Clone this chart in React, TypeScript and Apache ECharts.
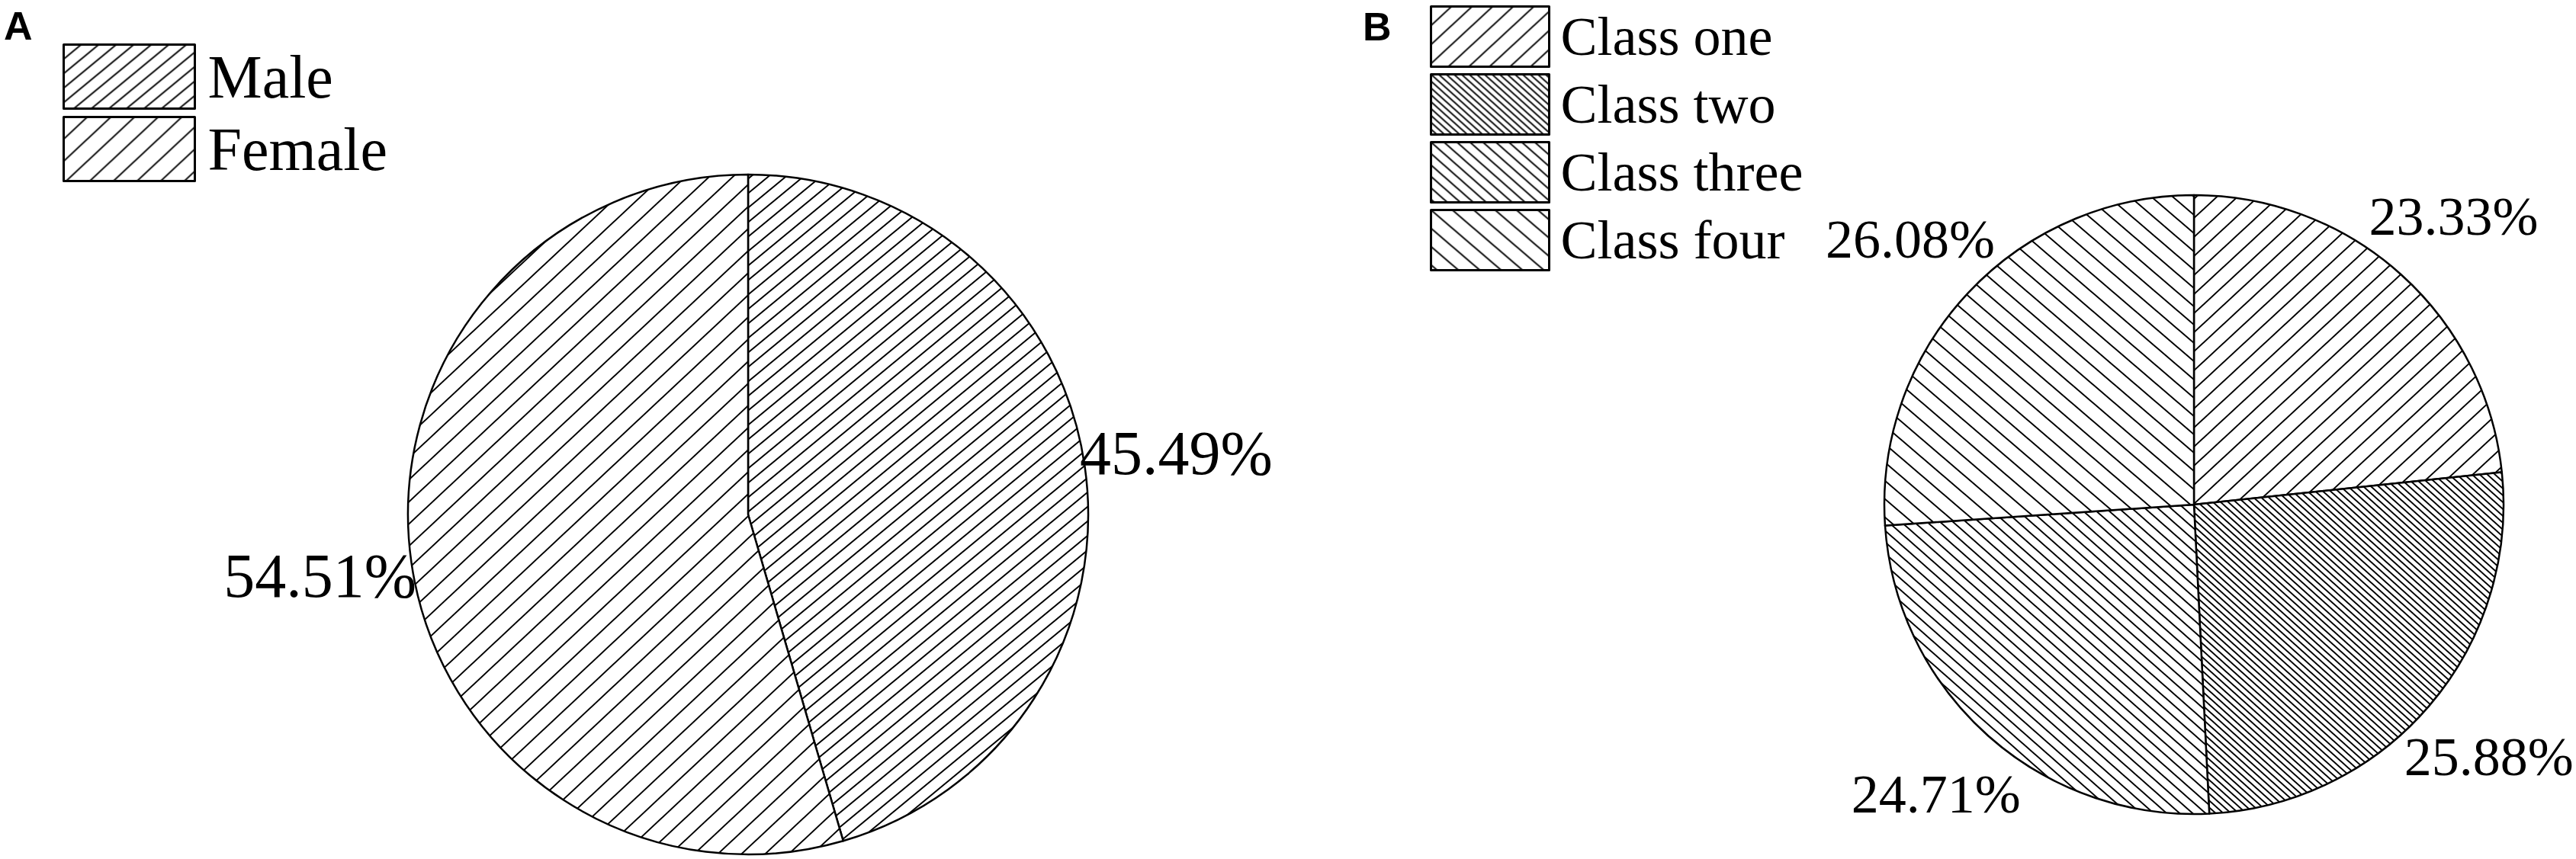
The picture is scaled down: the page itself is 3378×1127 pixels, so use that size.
import React, { useEffect, useRef } from 'react';
import * as echarts from 'echarts';

const panelLabels = ['A', 'B'];
const genderNames = ['Male', 'Female'];
const genderValues = [45.49, 54.51];
const classNames = ['Class one', 'Class two', 'Class three', 'Class four'];
const classValues = [23.33, 25.88, 24.71, 26.08];

// hatch tiles: horizontal period, vertical period, direction
const genderHatch = [
  { h: 23, v: 19, dir: '/' },
  { h: 31, v: 29, dir: '/' },
];
const classHatch = [
  { h: 27, v: 25, dir: '/' },
  { h: 10, v: 9, dir: '\\' },
  { h: 17, v: 15, dir: '\\' },
  { h: 28, v: 24, dir: '\\' },
];

function makeHatch(h: number, v: number, dir: string, lw: number) {
  const c = document.createElement('canvas');
  c.width = h;
  c.height = v;
  const ctx = c.getContext('2d')!;
  ctx.fillStyle = '#ffffff';
  ctx.fillRect(0, 0, h, v);
  ctx.strokeStyle = '#000000';
  ctx.lineWidth = lw;
  ctx.beginPath();
  for (let k = -1; k <= 2; k++) {
    if (dir === '/') {
      ctx.moveTo(k * h + h, -v);
      ctx.lineTo(k * h - 2 * h, 2 * v);
    } else {
      ctx.moveTo(k * h - h, -v);
      ctx.lineTo(k * h + 2 * h, 2 * v);
    }
  }
  ctx.stroke();
  return { image: c, repeat: 'repeat', imageWidth: h, imageHeight: v };
}

const SERIF = 'Liberation Serif, Times New Roman, serif';
const SANS = 'Liberation Sans, Arial, sans-serif';

export default function App() {
  const ref = useRef<HTMLDivElement>(null);
  useEffect(() => {
    document.body.style.margin = '0';
    document.body.style.overflow = 'hidden';
    if (!ref.current) return;
    const chart = echarts.init(ref.current, undefined, { renderer: 'svg' });

    const gPat = genderHatch.map((p) => makeHatch(p.h, p.v, p.dir, 2));
    const cPat = classHatch.map((p) => makeHatch(p.h, p.v, p.dir, 2));

    const pieA = { center: [981, 675], r: 446, labelGap: 118, font: 82 };
    const pieB = { center: [2877, 662], r: 406, labelGap: 100, font: 72 };

    const fmt = (p: any) => Number(p.value).toFixed(2) + '%';

    const mainPie = (cfg: any, names: string[], values: number[], pats: any[]) => ({
      type: 'pie',
      center: cfg.center,
      radius: cfg.r,
      startAngle: 90,
      clockwise: true,
      avoidLabelOverlap: false,
      silent: true,
      label: { show: false },
      labelLine: { show: false },
      emphasis: { disabled: true },
      itemStyle: { borderColor: '#000', borderWidth: 2.5 },
      data: names.map((n, i) => ({ name: n, value: values[i], itemStyle: { color: pats[i] } })),
    });

    const labelPie = (cfg: any, names: string[], values: number[]) => ({
      type: 'pie',
      center: cfg.center,
      radius: [cfg.r + cfg.labelGap - 40, cfg.r + cfg.labelGap + 40],
      startAngle: 90,
      clockwise: true,
      avoidLabelOverlap: false,
      silent: true,
      emphasis: { disabled: true },
      itemStyle: { color: 'rgba(0,0,0,0)', borderWidth: 0 },
      label: {
        show: true,
        position: 'inside',
        formatter: fmt,
        color: '#000',
        fontFamily: SERIF,
        fontSize: cfg.font,
      },
      labelLine: { show: false },
      data: names.map((n, i) => ({ name: n, value: values[i] })),
    });

    const legendBase = {
      orient: 'vertical',
      icon: 'rect',
      padding: 0,
      selectedMode: false,
      itemStyle: { borderColor: '#000', borderWidth: 3 },
    };

    chart.setOption({
      animation: false,
      backgroundColor: '#ffffff',
      title: [
        {
          text: panelLabels[0],
          left: 5,
          top: 8,
          padding: 0,
          textStyle: { fontFamily: SANS, fontWeight: 'bold', fontSize: 52, color: '#000' },
        },
        {
          text: panelLabels[1],
          left: 1787,
          top: 9,
          padding: 0,
          textStyle: { fontFamily: SANS, fontWeight: 'bold', fontSize: 52, color: '#000' },
        },
      ],
      legend: [
        {
          ...legendBase,
          data: genderNames,
          left: 82,
          top: 57,
          itemWidth: 172,
          itemHeight: 84,
          itemGap: 8,
          textStyle: { fontFamily: SERIF, fontSize: 80, color: '#000', padding: [0, 0, 0, 12] },
        },
        {
          ...legendBase,
          data: classNames,
          left: 1875,
          top: 7,
          itemWidth: 155,
          itemHeight: 79,
          itemGap: 7,
          textStyle: { fontFamily: SERIF, fontSize: 72, color: '#000', padding: [0, 0, 0, 10] },
        },
      ],
      series: [
        mainPie(pieA, genderNames, genderValues, gPat),
        mainPie(pieB, classNames, classValues, cPat),
        labelPie(pieA, genderNames, genderValues),
        labelPie(pieB, classNames, classValues),
      ],
    });

    return () => chart.dispose();
  }, []);

  return <div ref={ref} style={{ width: '3378px', height: '1127px', background: '#fff' }} />;
}
